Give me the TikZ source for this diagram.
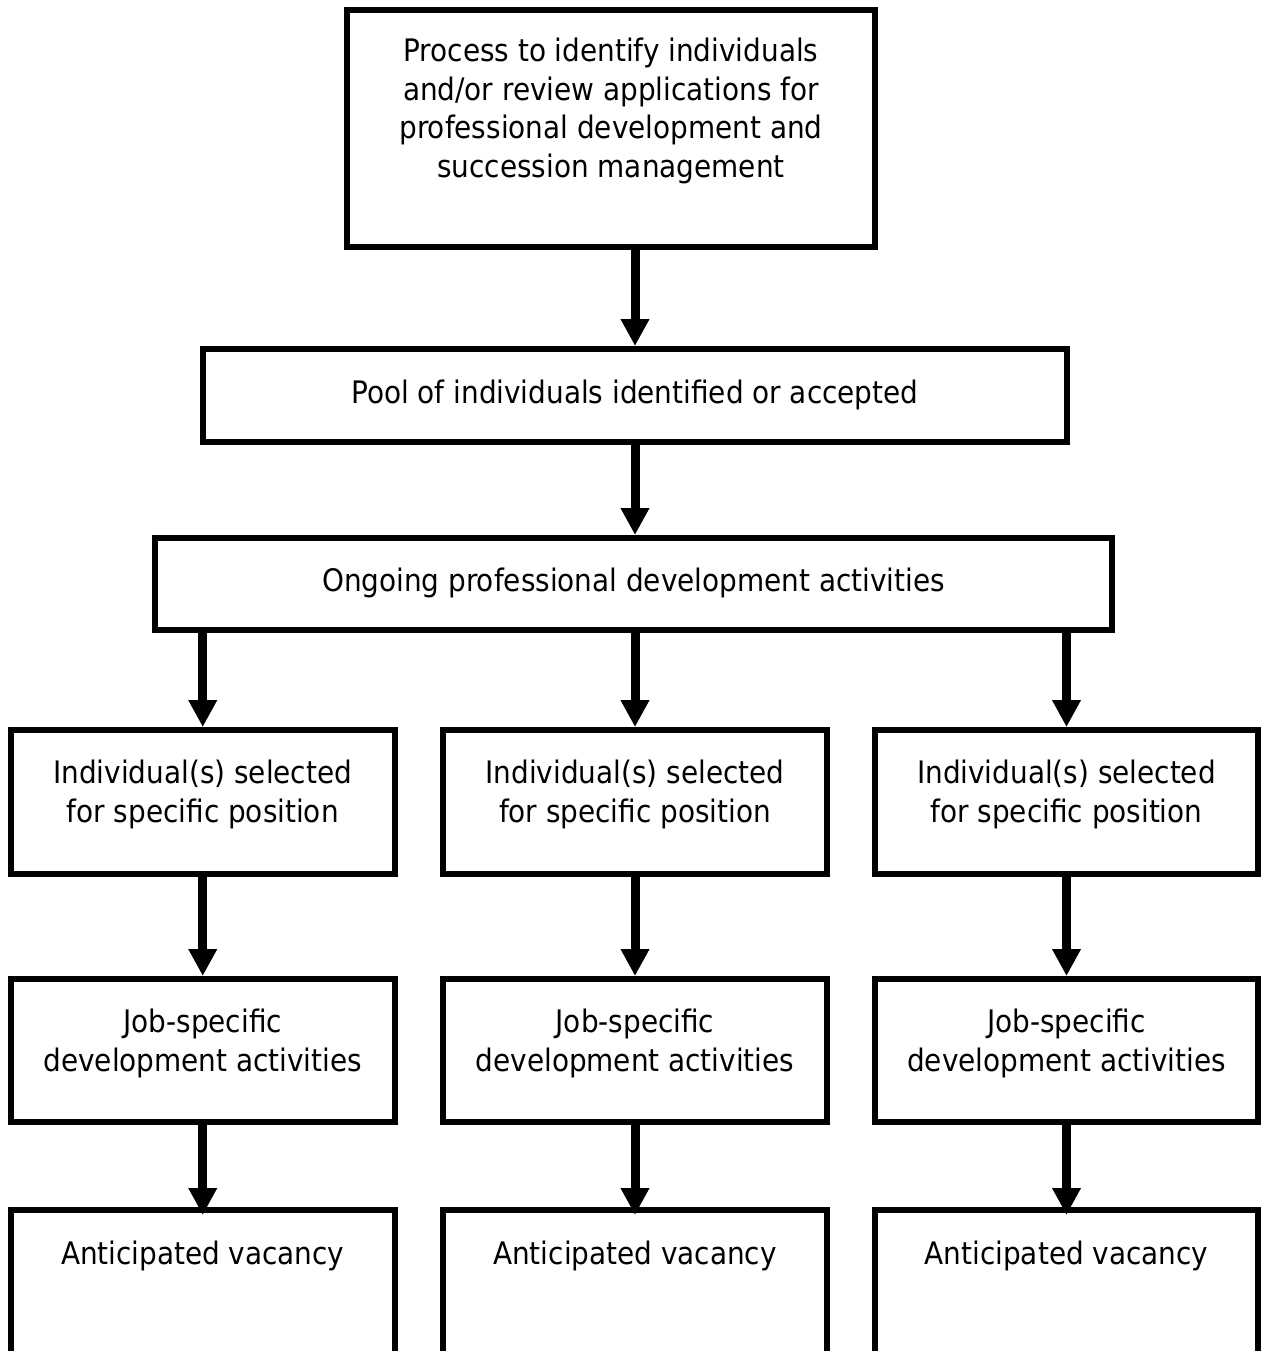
\documentclass[tikz,border=0pt]{standalone}
\usepackage{fontspec}
\setmainfont{DejaVu Sans Condensed}
\usetikzlibrary{arrows.meta}
\begin{document}
\begin{tikzpicture}[x=1pt,y=-1pt,
  box/.style={draw=black, line width=6pt, rectangle, inner sep=0pt, fill=none},
  lbl/.style={inner sep=0pt, align=center, font=\fontsize{31}{38.5}\selectfont},
  arr/.style={line width=9pt, -{Triangle[length=27pt,width=27pt]}}]
\useasboundingbox (0,0) rectangle (1261,1351);
\clip (0,0) rectangle (1261,1351);
\fill[white] (0,0) rectangle (1261,1351);

% upper chain
\node[box, minimum width=528pt, minimum height=237pt] (top) at (611,128.2) {};
\node[lbl] (toptxt) at (611,111) {Process to identify individuals\\and/or review applications for\\professional development and\\succession management};

\node[box, minimum width=864pt, minimum height=93pt] (pool) at (635,395.5) {};
\node[lbl] (pooltxt) at (635,394.5) {Pool of individuals identified or accepted};

\node[box, minimum width=957pt, minimum height=92pt] (ongo) at (633.5,584) {};
\node[lbl] (ongotxt) at (633.5,582.5) {Ongoing professional development activities};

% three columns
\foreach \c/\x/\w in {a/202.75/383.5, b/635/384, c/1066.5/383}{
  \node[box, minimum width=\w pt, minimum height=143.7pt] (sel\c) at (\x,801.9) {};
  \node[lbl] (seltxt\c) at (\x,794.5) {Individual(s) selected\\for specific position};
  \node[box, minimum width=\w pt, minimum height=143pt] (job\c) at (\x,1050.5) {};
  \node[lbl] (jobtxt\c) at (\x,1043.5) {Job-specific\\development activities};
  \node[box, minimum width=\w pt, minimum height=300pt] (vac\c) at (\x,1360) {};
  \node[lbl] (vactxt\c) at (\x,1255.5) {Anticipated vacancy};
}

% connectors
\draw[arr] (top.south -| pool.north) -- (pool.north);
\draw[arr] (pool.south) -- (pool.south |- ongo.north);
\foreach \c in {a,b,c}{
  \draw[arr] (sel\c.north |- ongo.south) -- (sel\c.north);
  \draw[arr] (sel\c.south) -- (job\c.north);
  \draw[arr] (job\c.south) -- ([yshift=-8pt]vac\c.north);
}
\end{tikzpicture}
\end{document}
